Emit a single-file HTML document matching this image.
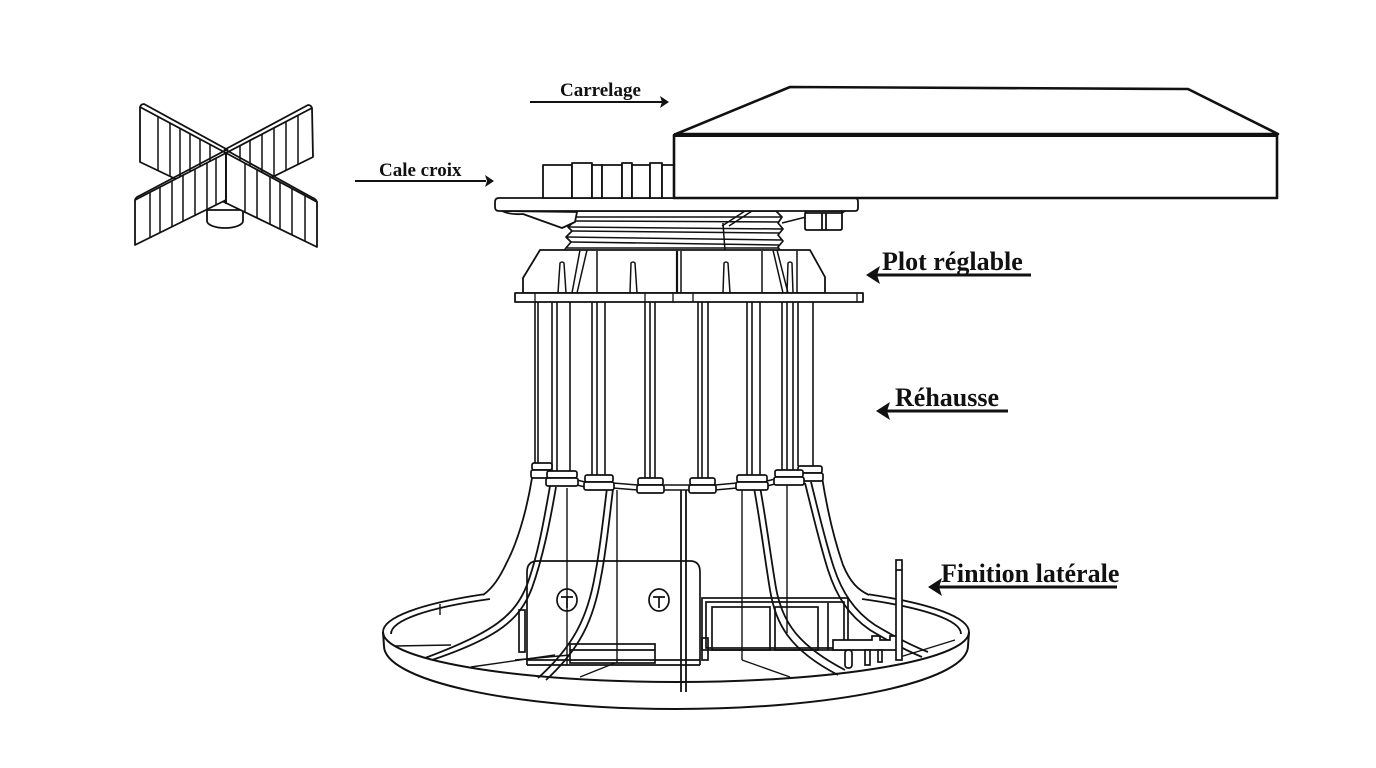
<!DOCTYPE html>
<html>
<head>
<meta charset="utf-8">
<style>
html,body{margin:0;padding:0;background:#fff;}
svg{display:block;}
.lbl{font-family:"Liberation Serif",serif;font-weight:bold;fill:#111;}
</style>
</head>
<body>
<svg width="1376" height="768" viewBox="0 0 1376 768" xmlns="http://www.w3.org/2000/svg">
<rect width="1376" height="768" fill="#fff"/>

<!-- ===== Cross spacer ===== -->
<g stroke="#111" stroke-width="1.8" fill="#fff" stroke-linejoin="round">
  <!-- upper-left arm -->
  <polygon points="140,107 226,153 226,203 140,162"/>
  <path d="M140,107 Q141,104 144,104 L228,150" fill="none"/>
  <g fill="none" stroke-width="1.5">
    <line x1="158" y1="116.7" x2="158" y2="170.6"/><line x1="170" y1="123.1" x2="170" y2="176.4"/>
    <line x1="180" y1="128.5" x2="180" y2="181.2"/><line x1="190" y1="133.8" x2="190" y2="186"/>
    <line x1="200" y1="139.2" x2="200" y2="190.8"/><line x1="210" y1="144.6" x2="210" y2="195.6"/>
  </g>
  <!-- upper-right arm -->
  <polygon points="312,108 226,153 226,200 313,157"/>
  <path d="M312,108 Q311,105 308,105 L224,150" fill="none"/>
  <g fill="none" stroke-width="1.5">
    <line x1="240" y1="145.4" x2="240" y2="193.1"/><line x1="250" y1="140.2" x2="250" y2="188.1"/>
    <line x1="262" y1="134" x2="262" y2="182.2"/><line x1="274" y1="127.7" x2="274" y2="176.3"/>
    <line x1="286" y1="121.5" x2="286" y2="170.3"/><line x1="298" y1="115.3" x2="298" y2="164.4"/>
  </g>
  <!-- cylinder -->
  <path d="M207,210 L207,221 A18,7 0 0 0 243,221 L243,210 Z"/>
  <!-- lower-left arm -->
  <polygon points="226,153 135,200 135,245 226,200"/>
  <path d="M135,200 Q136,197 139,196 L226,150" fill="none"/>
  <g fill="none" stroke-width="1.5">
    <line x1="150" y1="192.2" x2="150" y2="237.6"/><line x1="160" y1="187" x2="160" y2="232.6"/>
    <line x1="172" y1="180.8" x2="172" y2="226.7"/><line x1="183" y1="175" x2="183" y2="221.3"/>
    <line x1="195" y1="168.8" x2="195" y2="215.3"/><line x1="207" y1="162.6" x2="207" y2="209.4"/>
    <line x1="216" y1="157.9" x2="216" y2="205"/>
  </g>
  <!-- lower-right arm -->
  <polygon points="226,153 317,202 317,247 226,203"/>
  <path d="M226,150 L313,198 Q316,199 317,202" fill="none"/>
  <g fill="none" stroke-width="1.5">
    <line x1="245" y1="163.4" x2="245" y2="212.4"/><line x1="257" y1="169.8" x2="257" y2="218.2"/>
    <line x1="270" y1="176.8" x2="270" y2="224.4"/><line x1="280" y1="182.1" x2="280" y2="229.2"/>
    <line x1="292" y1="188.6" x2="292" y2="235"/><line x1="305" y1="195.6" x2="305" y2="241.2"/>
  </g>
  <line x1="226" y1="153" x2="226" y2="204"/>
</g>

<!-- ===== Ring base (back parts) ===== -->
<g stroke="#111" stroke-width="1.8" fill="none">
  <path d="M383,632 A293,50 0 0 1 483,594.4"/>
  <path d="M869,594.4 A293,50 0 0 1 969,632"/>
  <path d="M391,634 A285,46 0 0 1 490,599"/>
  <path d="M862,599 A285,46 0 0 1 961,634"/>
  <line x1="440" y1="604" x2="440" y2="615" stroke-width="1.4"/>
  <!-- floor lines -->
  <g stroke-width="1.4">
    <line x1="395" y1="646" x2="451" y2="645"/>
    <line x1="471" y1="667" x2="555" y2="655"/>
    <line x1="515" y1="660" x2="570" y2="655"/>
    <line x1="580" y1="677" x2="615" y2="663"/>
    <line x1="742" y1="660" x2="790" y2="677"/>
    <line x1="900" y1="657" x2="955" y2="640"/>
  </g>
</g>

<!-- ===== Bell outline & ribs ===== -->
<g stroke="#111" stroke-width="1.8" fill="none">
  <path d="M532,478 C526,515 516,545 507,562 C500,577 493,588 483,595"/>
  <path d="M822,477 C828,515 836,545 843,565 C850,582 858,590 869,595"/>
  <!-- ribs -->
  <path d="M550,486 C544,520 538,555 527,585 C515,615 495,632 425,658"/>
  <path d="M556,487 C550,522 543,557 532,588 C520,619 500,637 432,660"/>
  <path d="M607,488 C603,520 600,550 595,575 C588,615 575,645 538,678"/>
  <path d="M613,489 C609,522 606,552 601,577 C594,618 581,648 546,680"/>
  <line x1="681" y1="490" x2="681" y2="692"/>
  <line x1="686" y1="490" x2="686" y2="692"/>
  <path d="M754,488 C760,520 765,560 770,590 C776,625 790,650 838,675"/>
  <path d="M760,487 C766,519 771,559 776,588 C782,621 797,645 845,670"/>
  <path d="M805,483 C813,515 820,545 828,570 C836,595 848,615 870,630 C890,642 905,650 922,657"/>
  <path d="M811,482 C819,514 826,544 834,568 C842,592 854,611 875,625 C895,637 910,645 928,652"/>
  <!-- thin verticals -->
  <g stroke-width="1.4">
    <line x1="567" y1="488" x2="567" y2="665"/>
    <line x1="617" y1="490" x2="617" y2="663"/>
    <line x1="742" y1="488" x2="742" y2="660"/>
    <line x1="787" y1="484" x2="787" y2="633"/>
  </g>
</g>

<!-- ===== Window box (front left) ===== -->
<g stroke="#111" stroke-width="1.7" fill="none">
  <path d="M527,665 L527,572 Q527,561 538,561 L690,561 Q700,561 700,572 L700,665"/>
  <line x1="527" y1="660" x2="700" y2="660"/>
  <line x1="527" y1="665" x2="700" y2="665"/>
  <rect x="519" y="610" width="6" height="42"/>
  <ellipse cx="567" cy="600" rx="10" ry="11"/>
  <path d="M561,597 L573,597 M567,597 L567,608"/>
  <ellipse cx="659" cy="600" rx="10" ry="11"/>
  <path d="M653,597 L665,597 M659,597 L659,608"/>
  <rect x="570" y="644" width="85" height="19"/>
  <line x1="570" y1="650" x2="655" y2="650"/>
</g>

<!-- ===== Right box & clamp ===== -->
<g stroke="#111" stroke-width="1.7" fill="none">
  <rect x="702" y="598" width="146" height="52"/>
  <rect x="706" y="602" width="138" height="46"/>
  <rect x="712" y="607" width="58" height="43"/>
  <rect x="775" y="607" width="43" height="43"/>
  <line x1="828" y1="603" x2="828" y2="650"/>
  <rect x="702" y="638" width="6" height="22"/>
  <path d="M833,640 L872,640 L872,636 L880,636 L880,640 L890,640 L890,636 L900,636 L900,650 L833,650 Z" fill="#fff"/>
  <rect x="845" y="650" width="7" height="18" rx="3" fill="#fff"/>
  <rect x="865" y="650" width="5" height="15" fill="#fff"/>
  <rect x="878" y="650" width="4" height="12" fill="#fff"/>
  <rect x="896" y="560" width="6" height="100" fill="#fff"/>
  <line x1="896" y1="570" x2="902" y2="570"/>
</g>

<!-- ===== Ring front ===== -->
<g stroke="#111" stroke-width="2" fill="none">
  <path d="M383,632 A293,50 0 0 0 969,632"/>
  <path d="M384,646 A292,63 0 0 0 968,646"/>
  <line x1="383" y1="632" x2="384" y2="646"/>
  <line x1="969" y1="632" x2="968" y2="646"/>
</g>

<!-- ===== Columns (Réhausse) ===== -->
<g stroke="#111" stroke-width="1.6" fill="none">
  <line x1="535" y1="302" x2="535" y2="463"/><line x1="538" y1="302" x2="538" y2="463"/>
  <line x1="552" y1="302" x2="552" y2="471"/><line x1="557" y1="302" x2="557" y2="471"/>
  <line x1="570" y1="302" x2="570" y2="471"/>
  <line x1="592" y1="302" x2="592" y2="475"/><line x1="597" y1="302" x2="597" y2="475"/>
  <line x1="605" y1="302" x2="605" y2="475"/>
  <line x1="645" y1="302" x2="645" y2="478"/><line x1="650" y1="302" x2="650" y2="478"/>
  <line x1="655" y1="302" x2="655" y2="478"/>
  <line x1="698" y1="302" x2="698" y2="478"/><line x1="702" y1="302" x2="702" y2="478"/>
  <line x1="708" y1="302" x2="708" y2="478"/>
  <line x1="747" y1="302" x2="747" y2="475"/><line x1="752" y1="302" x2="752" y2="475"/>
  <line x1="760" y1="302" x2="760" y2="475"/>
  <line x1="782" y1="302" x2="782" y2="470"/><line x1="787" y1="302" x2="787" y2="470"/>
  <line x1="793" y1="302" x2="793" y2="470"/><line x1="798" y1="302" x2="798" y2="466"/>
  <line x1="813" y1="302" x2="813" y2="466"/>
</g>

<!-- ===== Clips band ===== -->
<g stroke="#111" stroke-width="1.5" fill="none">
  <polyline points="577,480 585,482"/><polyline points="613,483 638,485"/>
  <polyline points="663,485 690,485"/><polyline points="715,485 737,483"/>
  <polyline points="767,481 775,479"/>
  <polyline points="577,485 585,487"/><polyline points="613,488 638,490"/>
  <polyline points="663,490 690,490"/><polyline points="715,490 737,488"/>
  <polyline points="767,486 775,484"/>
</g>
<g stroke="#111" stroke-width="1.7" fill="#fff">
  <rect x="532" y="463" width="20" height="7" rx="2"/><rect x="531" y="470" width="22" height="8" rx="2"/>
  <rect x="798" y="466" width="24" height="7" rx="2"/><rect x="797" y="473" width="26" height="8" rx="2"/>
  <rect x="547" y="471" width="30" height="7" rx="2"/><rect x="546" y="478" width="32" height="8" rx="2"/>
  <rect x="775" y="470" width="28" height="7" rx="2"/><rect x="774" y="477" width="30" height="8" rx="2"/>
  <rect x="585" y="475" width="28" height="7" rx="2"/><rect x="584" y="482" width="30" height="8" rx="2"/>
  <rect x="737" y="475" width="30" height="7" rx="2"/><rect x="736" y="482" width="32" height="8" rx="2"/>
  <rect x="638" y="478" width="25" height="7" rx="2"/><rect x="637" y="485" width="27" height="8" rx="2"/>
  <rect x="690" y="478" width="25" height="7" rx="2"/><rect x="689" y="485" width="27" height="8" rx="2"/>
</g>

<!-- ===== Threaded section ===== -->
<g stroke="#111" stroke-width="1.7" fill="#fff" stroke-linejoin="round">
  <polygon points="577,211 572,217 575,221 568,227 572,231 566,237 571,242 566,248 563,252 781,252 778,247 783,241 778,235 783,229 778,223 782,217 776,211"/>
  <g fill="none" stroke-width="1.5">
    <line x1="573" y1="217" x2="781" y2="217"/>
    <line x1="575" y1="221" x2="779" y2="222"/>
    <line x1="569" y1="227" x2="782" y2="229"/>
    <line x1="572" y1="231" x2="779" y2="233"/>
    <line x1="567" y1="237" x2="782" y2="240"/>
    <line x1="571" y1="242" x2="779" y2="245"/>
    <line x1="567" y1="248" x2="778" y2="248"/>
    <line x1="723" y1="223" x2="725" y2="251"/>
    <line x1="722" y1="226" x2="745" y2="211"/>
    <line x1="729" y1="226" x2="752" y2="211"/>
    <line x1="782" y1="223" x2="806" y2="217"/>
  </g>
</g>

<!-- ===== Housing (Plot réglable) ===== -->
<g stroke="#111" stroke-width="1.8" fill="#fff" stroke-linejoin="round">
  <path d="M523,293 L523,278 L540,250 L810,250 L825,277 L825,293 Z"/>
  <g fill="none" stroke-width="1.5">
    <line x1="597" y1="251" x2="597" y2="293"/>
    <line x1="677" y1="251" x2="677" y2="293" stroke-width="2.2"/>
    <line x1="681" y1="251" x2="681" y2="293"/>
    <line x1="762" y1="251" x2="762" y2="293"/>
    <line x1="797" y1="251" x2="797" y2="293"/>
    <line x1="572" y1="293" x2="580" y2="250"/><line x1="577" y1="293" x2="587" y2="250"/>
    <line x1="783" y1="293" x2="773" y2="250"/><line x1="788" y1="293" x2="777" y2="250"/>
    <path d="M558,293 L560,263 Q562,261 564,263 L566,293"/>
    <path d="M630,293 L631,263 Q633,261 635,263 L637,293"/>
    <path d="M723,293 L724,263 Q726,261 728,263 L730,293"/>
    <path d="M787,293 L788,263 Q790,261 792,263 L793,293"/>
  </g>
  <rect x="515" y="293" width="348" height="9"/>
  <g fill="none" stroke-width="1.3">
    <line x1="535" y1="293" x2="535" y2="302"/><line x1="645" y1="293" x2="645" y2="302"/>
    <line x1="673" y1="293" x2="673" y2="302"/><line x1="693" y1="293" x2="693" y2="302"/>
    <line x1="857" y1="293" x2="857" y2="302"/>
  </g>
</g>

<!-- ===== Head plate ===== -->
<g stroke="#111" stroke-width="1.8" fill="#fff" stroke-linejoin="round">
  <path d="M502,211 Q510,215 523,214 L562,228 L575,222 L577,212 Z"/>
  <path d="M845,211 L840,214 L806,214 L806,211 Z"/>
  <path d="M805,213 L842,213 L842,228 Q842,230 840,230 L807,230 Q805,230 805,228 Z"/>
  <line x1="822" y1="213" x2="822" y2="230"/><line x1="826" y1="213" x2="826" y2="230"/>
  <path d="M499,198 L855,198 Q858,198 858,202 L858,208 Q858,211 855,211 L499,211 Q495,211 495,207 L495,202 Q495,198 499,198 Z"/>
  <!-- tabs -->
  <rect x="543" y="165" width="29" height="33"/>
  <rect x="572" y="163" width="20" height="35"/>
  <rect x="592" y="165" width="10" height="33"/>
  <rect x="602" y="165" width="20" height="33"/>
  <rect x="622" y="163" width="10" height="35"/>
  <rect x="632" y="165" width="18" height="33"/>
  <rect x="650" y="163" width="12" height="35"/>
  <rect x="662" y="165" width="12" height="33"/>
</g>

<!-- ===== Tile (Carrelage) ===== -->
<g stroke="#111" stroke-width="2.6" fill="#fff" stroke-linejoin="round">
  <polygon points="676,134 790,87 1188,89 1278,134"/>
  <rect x="674" y="135" width="603" height="63"/>
  <line x1="674" y1="135" x2="1277" y2="135" stroke-width="4"/>
</g>

<!-- ===== Labels & arrows ===== -->
<text class="lbl" x="560" y="96" font-size="19">Carrelage</text>
<line x1="530" y1="102" x2="662" y2="102" stroke="#111" stroke-width="2"/>
<polygon points="669,102 660,96 662,102 660,108" fill="#111"/>

<text class="lbl" x="379" y="176" font-size="19">Cale croix</text>
<line x1="355" y1="181" x2="486" y2="181" stroke="#111" stroke-width="2"/>
<polygon points="494,181 485,175 487,181 485,187" fill="#111"/>

<text class="lbl" x="882" y="270" font-size="26">Plot réglable</text>
<line x1="874" y1="275" x2="1031" y2="275" stroke="#111" stroke-width="3"/>
<polygon points="866,275 880,266 877,275 880,284" fill="#111"/>

<text class="lbl" x="895" y="406" font-size="26">Réhausse</text>
<line x1="884" y1="411" x2="1008" y2="411" stroke="#111" stroke-width="3"/>
<polygon points="876,411 890,402 887,411 890,420" fill="#111"/>

<text class="lbl" x="941" y="582" font-size="26">Finition latérale</text>
<line x1="936" y1="587" x2="1117" y2="587" stroke="#111" stroke-width="3"/>
<polygon points="928,587 942,578 939,587 942,596" fill="#111"/>
</svg>
</body>
</html>
